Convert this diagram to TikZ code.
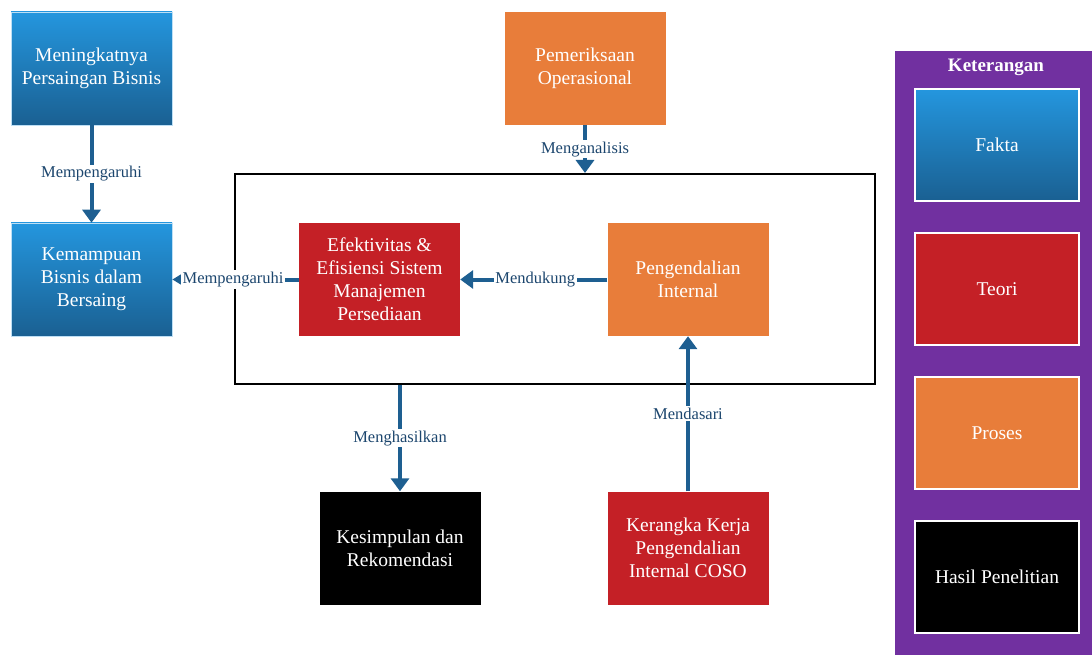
\documentclass[tikz,border=0pt]{standalone}
\usepackage{fontspec}
\setmainfont{Liberation Serif}
\usetikzlibrary{arrows.meta}
\definecolor{bluetop}{RGB}{36,150,222}
\definecolor{bluebot}{RGB}{26,96,146}
\definecolor{orangec}{RGB}{232,125,58}
\definecolor{redc}{RGB}{196,32,38}
\definecolor{purplec}{RGB}{113,48,160}
\definecolor{arrowc}{RGB}{30,95,145}
\definecolor{labelc}{RGB}{28,70,110}
\tikzset{
  box/.style={rectangle, minimum width=161pt, minimum height=113pt, align=center,
    text=white, font=\fontsize{19.5}{23}\selectfont, inner sep=2pt},
  fakta/.style={box, top color=bluetop, bottom color=bluebot, draw=white!70!bluetop, line width=0.6pt},
  teori/.style={box, fill=redc},
  proses/.style={box, fill=orangec},
  hasil/.style={box, fill=black},
  legbox/.style={line width=2pt, draw=white, minimum width=164pt, minimum height=112pt},
  conn/.style={draw=arrowc, line width=4pt, -{Triangle[length=13pt,width=18pt]}},
  lab/.style={fill=white, text=labelc, font=\fontsize{16.5}{19}\selectfont, inner sep=1.5pt},
}
\begin{document}
\begin{tikzpicture}[x=1pt,y=-1pt]
\useasboundingbox (0,0) rectangle (1092,655);
% main nodes
\node[fakta] (mps) at (91.5,68.5) {Meningkatnya\\Persaingan Bisnis};
\node[fakta] (kbb) at (91.5,279.5) {Kemampuan\\Bisnis dalam\\Bersaing};
\node[proses] (po) at (585,68.5) {Pemeriksaan\\Operasional};
\node[draw=black, line width=2pt, minimum width=640pt, minimum height=210pt] (frame) at (555,279) {};
\node[teori] (ef) at (379.5,279.5) {Efektivitas \&\\Efisiensi Sistem\\Manajemen\\Persediaan};
\node[proses] (pi) at (688,279.5) {Pengendalian\\Internal};
\node[hasil] (ks) at (400,548) {Kesimpulan dan\\Rekomendasi};
\node[teori] (kk) at (688,548) {Kerangka Kerja\\Pengendalian\\Internal COSO};
% connectors
\draw[conn] (mps.south) -- (kbb.north) node[lab, pos=0.5] {Mempengaruhi};
\draw[conn] (po.south) -- (po.south |- frame.north) node[lab, pos=0.5] {Menganalisis};
\draw[conn, -{Triangle[length=9pt,width=10pt]}] (ef.west) -- (kbb.east) node[lab, pos=0.52] {Mempengaruhi};
\draw[conn] (pi.west) -- (ef.east) node[lab, pos=0.49] {Mendukung};
\draw[conn] (ks.north |- frame.south) -- (ks.north) node[lab, pos=0.5] {Menghasilkan};
\draw[conn] (kk.north) -- (pi.south) node[lab, pos=0.5] {Mendasari};
% legend
\node[fill=purplec, minimum width=197pt, minimum height=604pt, inner sep=0pt] (leg) at (993.5,353) {};
\node[text=white, font=\fontsize{19}{22}\selectfont\bfseries] (legt) at (996,67) {Keterangan};
\node[fakta, legbox] (lf) at (997,145) {Fakta};
\node[teori, legbox] (lt) at (997,289) {Teori};
\node[proses, legbox] (lp) at (997,433) {Proses};
\node[hasil, legbox] (lh) at (997,576.5) {Hasil Penelitian};
\end{tikzpicture}
\end{document}
